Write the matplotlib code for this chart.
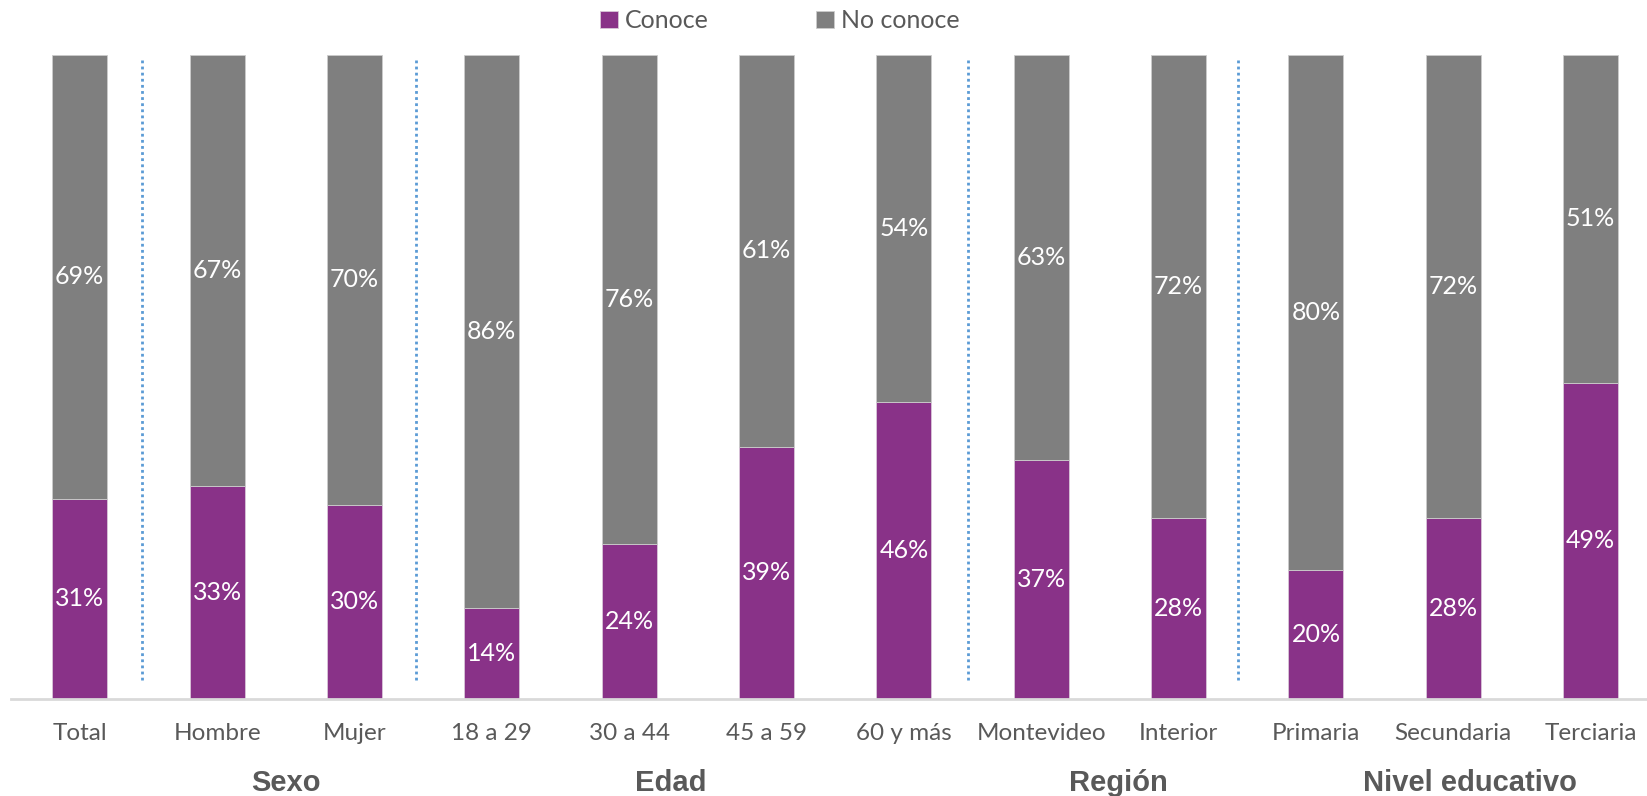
import matplotlib.pyplot as plt
import numpy as np

categorias = ["Total", "Hombre", "Mujer", "18 a 29", "30 a 44", "45 a 59", "60 y más",
              "Montevideo", "Interior", "Primaria", "Secundaria", "Terciaria"]
conoce = [31, 33, 30, 14, 24, 39, 46, 37, 28, 20, 28, 49]
no_conoce = [69, 67, 70, 86, 76, 61, 54, 63, 72, 80, 72, 51]
grupos = ["Sexo", "Edad", "Región", "Nivel educativo"]
grupo_centro = [1.5, 4.3, 7.56, 10.12]
separadores = [0.45, 2.45, 6.47, 8.43]

morado = "#893288"
gris = "#7f7f7f"
texto = "#595959"

fig = plt.figure(figsize=(16.47, 7.96), dpi=100)
ax = fig.add_axes([10.5 / 1647, 1 - 698.5 / 796, 1 - 10.5 / 1647, (698.5 - 54.6) / 796])

x = np.arange(len(categorias))
c = np.array(conoce) / 100
n = np.array(no_conoce) / 100
b1 = ax.bar(x, c, width=0.4, color=morado, edgecolor="#d9c6d9", linewidth=0.6, label="Conoce")
b2 = ax.bar(x, n, width=0.4, bottom=c, color=gris, edgecolor="#cccccc", linewidth=0.6, label="No conoce")

for i in range(len(x)):
    ax.text(x[i], c[i] / 2, f"{conoce[i]}%", ha="center", va="center",
            color="white", fontsize=18, family="Lato")
    ax.text(x[i], c[i] + n[i] / 2, f"{no_conoce[i]}%", ha="center", va="center",
            color="white", fontsize=18, family="Lato")

for s in separadores:
    ax.plot([s, s], [0.028, 0.995], color="#5b9bd5", linestyle=(0, (1, 1.2)),
            linewidth=2, dash_capstyle="butt")

ax.set_xlim(-0.504, 11.41)
ax.set_ylim(0, 1)
ax.set_yticks([])
ax.set_xticks(x)
ax.set_xticklabels(categorias, fontsize=17.5, color=texto, family="Lato")
ax.tick_params(axis="x", length=0, pad=18)
for sp in ["top", "right", "left"]:
    ax.spines[sp].set_visible(False)
ax.spines["bottom"].set_color("#d9d9d9")
ax.spines["bottom"].set_linewidth(2)

for g, gc in zip(grupos, grupo_centro):
    ax.text(gc, -0.1306, g, ha="center", va="center", fontsize=21, fontweight="bold",
            color=texto, family="Liberation Sans", transform=ax.get_xaxis_transform())

leg = fig.legend(handles=[b1, b2], loc="center", bbox_to_anchor=(780 / 1647, 1 - 20.5 / 796),
                 ncol=2, frameon=False, handlelength=0.7, handleheight=0.7,
                 columnspacing=4.3, handletextpad=0.3, prop={"family": "Lato", "size": 18})
for t in leg.get_texts():
    t.set_color(texto)

fig.savefig("out.png", dpi=100)
